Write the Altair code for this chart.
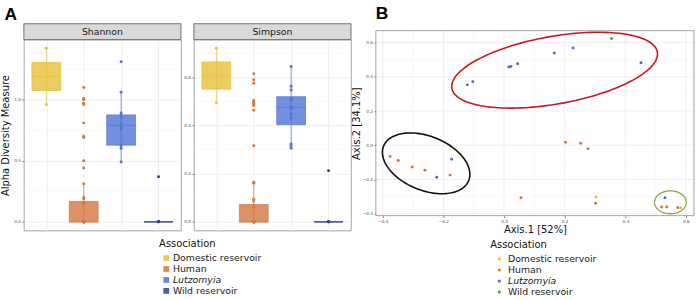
import altair as alt
import pandas as pd

# ---------------- data ----------------
categories = ["Domestic reservoir", "Human", "Lutzomyia", "Wild reservoir"]

shannon_domestic = [0.96, 1.42]
shannon_human = [1.10, 1.01, 1.00, 0.97, 0.96, 0.81, 0.70, 0.69, 0.50, 0.44,
                 0.31, 0.20, 0.19, 0.16, 0.15] + [0.0] * 37
shannon_lutzomyia = [1.31, 1.06, 0.89, 0.87, 0.85, 0.80, 0.78, 0.76, 0.63, 0.62, 0.60, 0.49]
shannon_wild = [0.37, 0.0, 0.0, 0.0, 0.0]

simpson_domestic = [0.494, 0.72]
simpson_human = [0.615, 0.59, 0.575, 0.504, 0.496, 0.489, 0.483, 0.463, 0.316, 0.164,
                 0.16, 0.094, 0.087, 0.067, 0.06] + [0.0] * 37
simpson_lutzomyia = [0.645, 0.563, 0.547, 0.51, 0.505, 0.48, 0.47, 0.446, 0.43, 0.323, 0.316, 0.305]
simpson_wild = [0.212, 0.0, 0.0, 0.0, 0.0]

pcoa_domestic_x = [0.304, 0.583]
pcoa_domestic_y = [-0.303, -0.366]
pcoa_human_x = [-0.376, -0.349, -0.303, -0.261, -0.178, 0.056, 0.203, 0.253, 0.277, 0.302, 0.52, 0.537, 0.573]
pcoa_human_y = [-0.066, -0.09, -0.128, -0.146, -0.175, -0.307, 0.017, 0.012, -0.02, -0.34, -0.362, -0.362, -0.366]
pcoa_lutzomyia_x = [-0.121, -0.103, 0.016, 0.023, 0.045, 0.166, 0.228, 0.452, -0.173, -0.222, 0.531]
pcoa_lutzomyia_y = [0.353, 0.371, 0.458, 0.46, 0.476, 0.54, 0.569, 0.482, -0.082, -0.187, -0.307]
pcoa_wild_x = [0.355]
pcoa_wild_y = [0.624]

pcoa_major_ticks = [-0.4, -0.2, 0.0, 0.2, 0.4, 0.6]
pcoa_minor_ticks = [-0.3, -0.1, 0.1, 0.3, 0.5]

# ellipse annotations: centre and two semi-axis vectors (data units)
ellipse_names = ["red", "black", "green"]
ellipse_cx = [0.167, -0.257, 0.549]
ellipse_cy = [0.439, -0.106, -0.334]
ellipse_ax = [0.339, 0.1404, 0.0525]
ellipse_ay = [0.106, -0.1009, 0.0]
ellipse_bx = [-0.0193, 0.0334, 0.0]
ellipse_by = [0.195, 0.1464, 0.067]
ellipse_colors = ["#D0161F", "#111111", "#78B043"]
ellipse_widths = [1.6, 1.6, 1.3]

colors_box = ["#E6C13A", "#D4773F", "#5074D6", "#333F97"]
colors_pcoa = ["#F2BC2C", "#D9743A", "#4A6FD0", "#58A03F"]

FONT = "DejaVu Sans"
GRID = "#E6E6E6"
MINOR = "#F3F3F3"
BORDER = "#8c8c8c"
italic_expr = {"expr": "datum.label == 'Lutzomyia' ? 'italic' : 'normal'"}


def long_df(lists):
    rows = []
    for cat, vals in zip(categories, lists):
        for v in vals:
            rows.append({"group": cat, "value": v})
    return pd.DataFrame(rows)


shannon_df = long_df([shannon_domestic, shannon_human, shannon_lutzomyia, shannon_wild])
simpson_df = long_df([simpson_domestic, simpson_human, simpson_lutzomyia, simpson_wild])


def alpha_panel(df, name, domain, major, minor, ytitle, legend, extra=None):
    yscale = alt.Scale(domain=domain, nice=False, zero=False)
    axis_kw = dict(values=major, format=".1f", labelFontSize=4.2, labelColor="#4d4d4d",
                   tickSize=2, tickColor="#333333", tickWidth=0.6, labelPadding=1.5,
                   domain=False, grid=True, gridColor=GRID, gridWidth=0.7)
    if ytitle:
        yaxis = alt.Axis(title=ytitle, titleFontSize=10, titleFontWeight="normal",
                         titleColor="#111111", titlePadding=3, **axis_kw)
    else:
        yaxis = alt.Axis(title=None, **axis_kw)
    xenc = alt.X("group:N", scale=alt.Scale(type="point", domain=categories, padding=0.6),
                 axis=alt.Axis(labels=False, ticks=False, domain=False, title=None,
                               grid=True, gridColor=GRID, gridWidth=0.7))
    cscale = alt.Scale(domain=categories, range=colors_box)
    if legend is None:
        col = alt.Color("group:N", scale=cscale, legend=None)
    else:
        col = alt.Color("group:N", scale=cscale, legend=legend)

    minor_layer = alt.Chart(pd.DataFrame({"v": minor})).mark_rule(
        color=MINOR, strokeWidth=0.5).encode(y=alt.Y("v:Q", scale=yscale, axis=yaxis))

    stats = alt.Chart(df).transform_joinaggregate(
        q1="q1(value)", q3="q3(value)", med="median(value)", groupby=["group"]
    ).transform_filter(
        "datum.value >= datum.q1 - 1.5*(datum.q3-datum.q1) && datum.value <= datum.q3 + 1.5*(datum.q3-datum.q1)"
    ).transform_aggregate(
        lo="min(value)", hi="max(value)", q1="min(q1)", q3="min(q3)", med="min(med)",
        groupby=["group"]
    )
    whisk = stats.mark_rule(strokeWidth=0.9, opacity=0.8).encode(
        x=xenc, y=alt.Y("lo:Q", scale=yscale, axis=yaxis), y2="hi:Q", color=col)
    box = stats.mark_bar(size=29, fillOpacity=0.8, strokeWidth=0.7).encode(
        x=xenc, y=alt.Y("q1:Q", scale=yscale, axis=yaxis), y2="q3:Q", color=col,
        stroke=alt.Stroke("group:N", scale=alt.Scale(domain=categories, range=colors_box), legend=None))
    med = stats.mark_tick(size=29, thickness=1.1).encode(
        x=xenc, y=alt.Y("med:Q", scale=yscale, axis=yaxis), color=col)
    pts = alt.Chart(df).mark_circle(size=9, opacity=1).encode(
        x=xenc, y=alt.Y("value:Q", scale=yscale, axis=yaxis), color=col)

    strip_df = pd.DataFrame({"s": [name]})
    strip = alt.Chart(strip_df).mark_rect(fill="#D9D9D9", stroke="#555555", strokeWidth=0.8).encode(
        x=alt.value(0), x2=alt.value(158), y=alt.value(-16), y2=alt.value(0))
    strip_text = alt.Chart(strip_df).mark_text(fontSize=9.4, color="#1a1a1a", font=FONT).encode(
        x=alt.value(79), y=alt.value(-7.5), text="s:N")
    layers = [minor_layer, whisk, box, med, pts, strip, strip_text]
    if extra is not None:
        layers.extend(extra)
    return alt.layer(*layers).properties(width=158, height=192)


label_a = alt.Chart(pd.DataFrame({"t": ["A"]})).mark_text(
    fontSize=17.5, fontWeight="bold", font="Liberation Sans", align="left",
    baseline="alphabetic", color="#000000").encode(
    x=alt.value(-19.5), y=alt.value(-19.7), text="t:N")

# invisible frame fixing the whole picture to 697 x 300 (Shannon view origin at 21, 38)
frame = alt.Chart(pd.DataFrame({"f": [0]})).mark_rect(fill="transparent", strokeWidth=0).encode(
    x=alt.value(-21), x2=alt.value(676), y=alt.value(-38), y2=alt.value(262))

legend_a = alt.Legend(orient="none", legendX=136, legendY=201, title="Association",
                      symbolType="square", symbolSize=34, symbolStrokeWidth=0,
                      symbolOpacity=0.85, symbolOffset=2.5, labelOffset=2,
                      labelFontStyle=italic_expr)

shannon = alpha_panel(shannon_df, "Shannon", [-0.071, 1.491], [0, 0.5, 1.0],
                      [0.25, 0.75, 1.25], "Alpha Diversity Measure", legend_a, [label_a, frame])
simpson = alpha_panel(simpson_df, "Simpson", [-0.036, 0.756], [0, 0.2, 0.4, 0.6],
                      [0.1, 0.3, 0.5, 0.7], None, None)

# ---------------- panel B ----------------
# B view origin is at (363, 38); its plot area spans x 12..332, y -9..177 inside it
prow = []
for cat, xs_, ys_ in zip(categories,
                         [pcoa_domestic_x, pcoa_human_x, pcoa_lutzomyia_x, pcoa_wild_x],
                         [pcoa_domestic_y, pcoa_human_y, pcoa_lutzomyia_y, pcoa_wild_y]):
    for a, b in zip(xs_, ys_):
        prow.append({"group": cat, "ax1": a, "ax2": b})
pcoa_df = pd.DataFrame(prow)

xs = alt.Scale(domain=[-0.423, 0.627], nice=False, zero=False, range=[12, 332])
ys = alt.Scale(domain=[-0.412, 0.670], nice=False, zero=False, range=[177, -9])
b_axis = dict(format=".1f", labelFontSize=4.2, labelColor="#4d4d4d", tickSize=2,
              tickColor="#333333", tickWidth=0.6, labelPadding=1.5, domain=False,
              grid=False, titleFontSize=10, titleFontWeight="normal", titleColor="#111111")
xaxis = alt.Axis(values=pcoa_major_ticks, title="Axis.1 [52%]", titlePadding=1.5, **b_axis)
yaxis = alt.Axis(values=pcoa_major_ticks, title="Axis.2 [34.1%]", titlePadding=1,
                 offset=-12, **b_axis)


def grid_rules(values, color, width):
    d = pd.DataFrame({"v": values})
    gx = alt.Chart(d).mark_rule(color=color, strokeWidth=width).encode(
        x=alt.X("v:Q", scale=xs, axis=xaxis), y=alt.value(-9), y2=alt.value(177))
    gy = alt.Chart(d).mark_rule(color=color, strokeWidth=width).encode(
        y=alt.Y("v:Q", scale=ys, axis=yaxis), x=alt.value(12), x2=alt.value(332))
    return [gx, gy]


border_b = alt.Chart(pd.DataFrame({"f": [0]})).mark_rect(
    fill="transparent", stroke=BORDER, strokeWidth=0.8).encode(
    x=alt.value(12), x2=alt.value(332), y=alt.value(-9), y2=alt.value(177))

legend_b = alt.Legend(orient="none", legendX=127, legendY=202, title="Association",
                      symbolType="circle", symbolSize=10, symbolStrokeWidth=0,
                      symbolOffset=4.5, labelOffset=4, labelFontStyle=italic_expr)

points_b = alt.Chart(pcoa_df).mark_circle(size=9, opacity=1).encode(
    x=alt.X("ax1:Q", scale=xs, axis=xaxis),
    y=alt.Y("ax2:Q", scale=ys, axis=yaxis),
    color=alt.Color("group:N", scale=alt.Scale(domain=categories, range=colors_pcoa), legend=legend_b))

ellipse_layers = []
for i in range(len(ellipse_names)):
    e = alt.Chart(alt.sequence(0, 6.28, 0.04, as_="t")).transform_calculate(
        ex=f"{ellipse_cx[i]} + {ellipse_ax[i]}*cos(datum.t) + {ellipse_bx[i]}*sin(datum.t)",
        ey=f"{ellipse_cy[i]} + {ellipse_ay[i]}*cos(datum.t) + {ellipse_by[i]}*sin(datum.t)",
    ).mark_line(color=ellipse_colors[i], strokeWidth=ellipse_widths[i],
                interpolate="linear-closed").encode(
        x=alt.X("ex:Q", scale=xs, axis=xaxis), y=alt.Y("ey:Q", scale=ys, axis=yaxis),
        order="t:Q")
    ellipse_layers.append(e)

label_b = alt.Chart(pd.DataFrame({"t": ["B"]})).mark_text(
    fontSize=17.5, fontWeight="bold", font="Liberation Sans", align="left",
    baseline="alphabetic", color="#000000").encode(
    x=alt.value(12), y=alt.value(-20.7), text="t:N")

panel_b = alt.layer(*grid_rules(pcoa_minor_ticks, MINOR, 0.5),
                    *grid_rules(pcoa_major_ticks, GRID, 0.7),
                    points_b, *ellipse_layers, border_b, label_b).properties(
    width=332, height=177, view=alt.ViewBackground(stroke=None))

chart = alt.hconcat(shannon, simpson, panel_b, spacing=13, bounds="flush").resolve_scale(
    color="independent", stroke="independent"
).properties(padding=0).configure(font=FONT).configure_view(
    stroke=BORDER, strokeWidth=0.8
).configure_legend(
    titleFontSize=10, titleFontWeight="normal", titleColor="#111111", titleFont=FONT,
    labelFontSize=9.4, labelColor="#1a1a1a", labelFont=FONT, rowPadding=0,
    titlePadding=4, padding=0
).configure_axis(labelFont=FONT, titleFont=FONT)

chart.save("out.html", embed_options={"renderer": "svg", "actions": False})
